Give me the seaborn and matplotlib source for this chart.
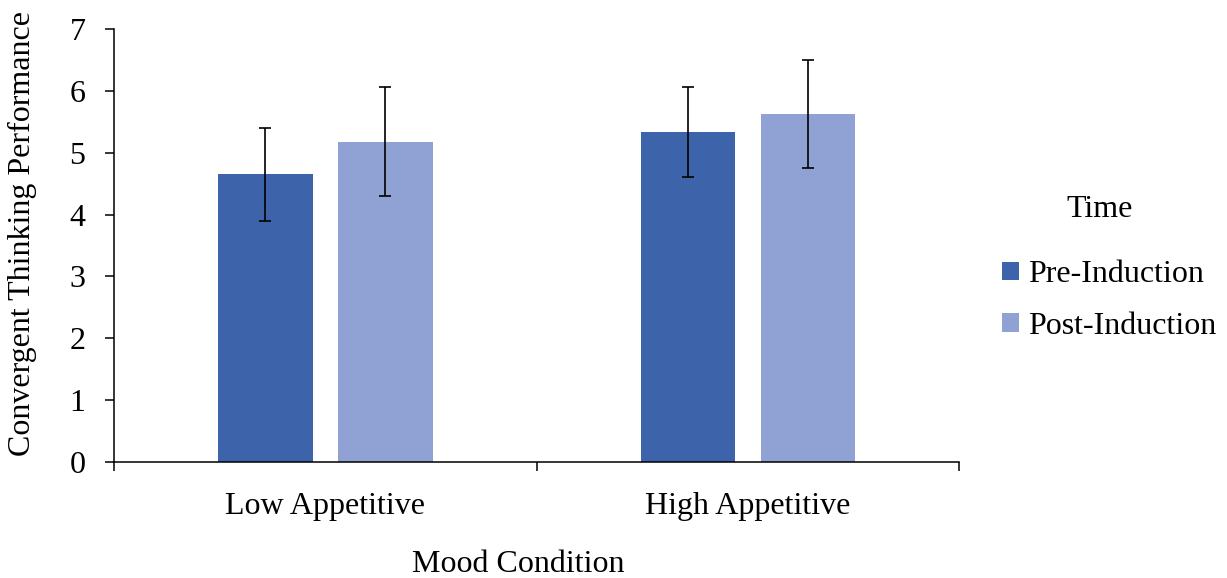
import matplotlib
matplotlib.use("Agg")
import matplotlib.pyplot as plt
from matplotlib.patches import Patch
from matplotlib.ticker import FixedLocator, NullFormatter
import seaborn as sns
import pandas as pd

# Group means and error bar half-widths
conditions = ["Low Appetitive", "High Appetitive"]
times = ["Pre-Induction", "Post-Induction"]
pre_means = [4.65, 5.34]
post_means = [5.18, 5.63]
pre_err = [0.75, 0.73]
post_err = [0.885, 0.875]
y_ticks = [0, 1, 2, 3, 4, 5, 6, 7]
colors = ["#3D64AB", "#8FA2D3"]

df = pd.DataFrame({
    "Mood Condition": conditions * 2,
    "Time": [times[0]] * 2 + [times[1]] * 2,
    "Score": pre_means + post_means,
})

sns.set_style("ticks")
plt.rcParams["font.family"] = ["Liberation Serif", "DejaVu Serif"]
plt.rcParams["font.size"] = 23
for key in ["text.color", "axes.labelcolor", "xtick.color", "ytick.color",
            "axes.edgecolor"]:
    plt.rcParams[key] = "black"

fig = plt.figure(figsize=(12.27, 5.78), dpi=100)
ax = fig.add_axes([0.0929, 0.2012, 0.6889, 0.7481])

sns.barplot(data=df, x="Mood Condition", y="Score", hue="Time",
            order=conditions, hue_order=times, palette=colors,
            width=0.568, gap=0.213, errorbar=None, saturation=1,
            linewidth=0, ax=ax)

# Error bars placed at each bar's centre
errs = [pre_err, post_err]
means = [pre_means, post_means]
for cont, m, e in zip(ax.containers, means, errs):
    xs = [b.get_x() + b.get_width() / 2 for b in cont]
    ax.errorbar(xs, m, yerr=e, fmt="none", ecolor="black",
                elinewidth=1.2, capsize=4.3, capthick=1.2, zorder=5)

if ax.get_legend() is not None:
    ax.get_legend().remove()

ax.set_ylim(0, 7)
ax.set_xlim(-0.5, 1.5)
ax.set_yticks(y_ticks)
ax.set_yticklabels([str(t) for t in y_ticks])

# Category labels without marks; boundary ticks between categories
ax.tick_params(axis="x", which="major", length=0, pad=22, labelsize=23,
               labelcolor="black")
ax.xaxis.set_minor_locator(FixedLocator([-0.5, 0.5, 1.5]))
ax.xaxis.set_minor_formatter(NullFormatter())
ax.tick_params(axis="x", which="minor", length=6.5, width=1.1,
               direction="out", color="black")
ax.tick_params(axis="y", length=6.5, width=1.1, direction="out",
               color="black", pad=14, labelsize=23, labelcolor="black")

for side in ["top", "right"]:
    ax.spines[side].set_visible(False)
for side in ["left", "bottom"]:
    ax.spines[side].set_linewidth(1.1)
    ax.spines[side].set_color("black")

ax.set_xlabel("Mood Condition", fontsize=23, color="black")
ax.set_ylabel("Convergent Thinking Performance", fontsize=23, color="black")
ax.xaxis.set_label_coords(0.478, -0.205)
ax.yaxis.set_label_coords(-0.0911, 0.528)

handles = [Patch(facecolor=c, edgecolor="none") for c in colors]
fig.legend(handles, times, loc="center left",
           bbox_to_anchor=(1002 / 1227, 1 - 300.5 / 578),
           frameon=False, fontsize=23, borderpad=0, borderaxespad=0,
           handlelength=0.53, handleheight=0.53, handletextpad=0.3,
           labelspacing=0.70, labelcolor="black")
fig.text(1100 / 1227, 1 - 217 / 578, "Time", ha="center", va="baseline",
         fontsize=23, color="black")

fig.savefig("out.png", dpi=100, facecolor="white")
